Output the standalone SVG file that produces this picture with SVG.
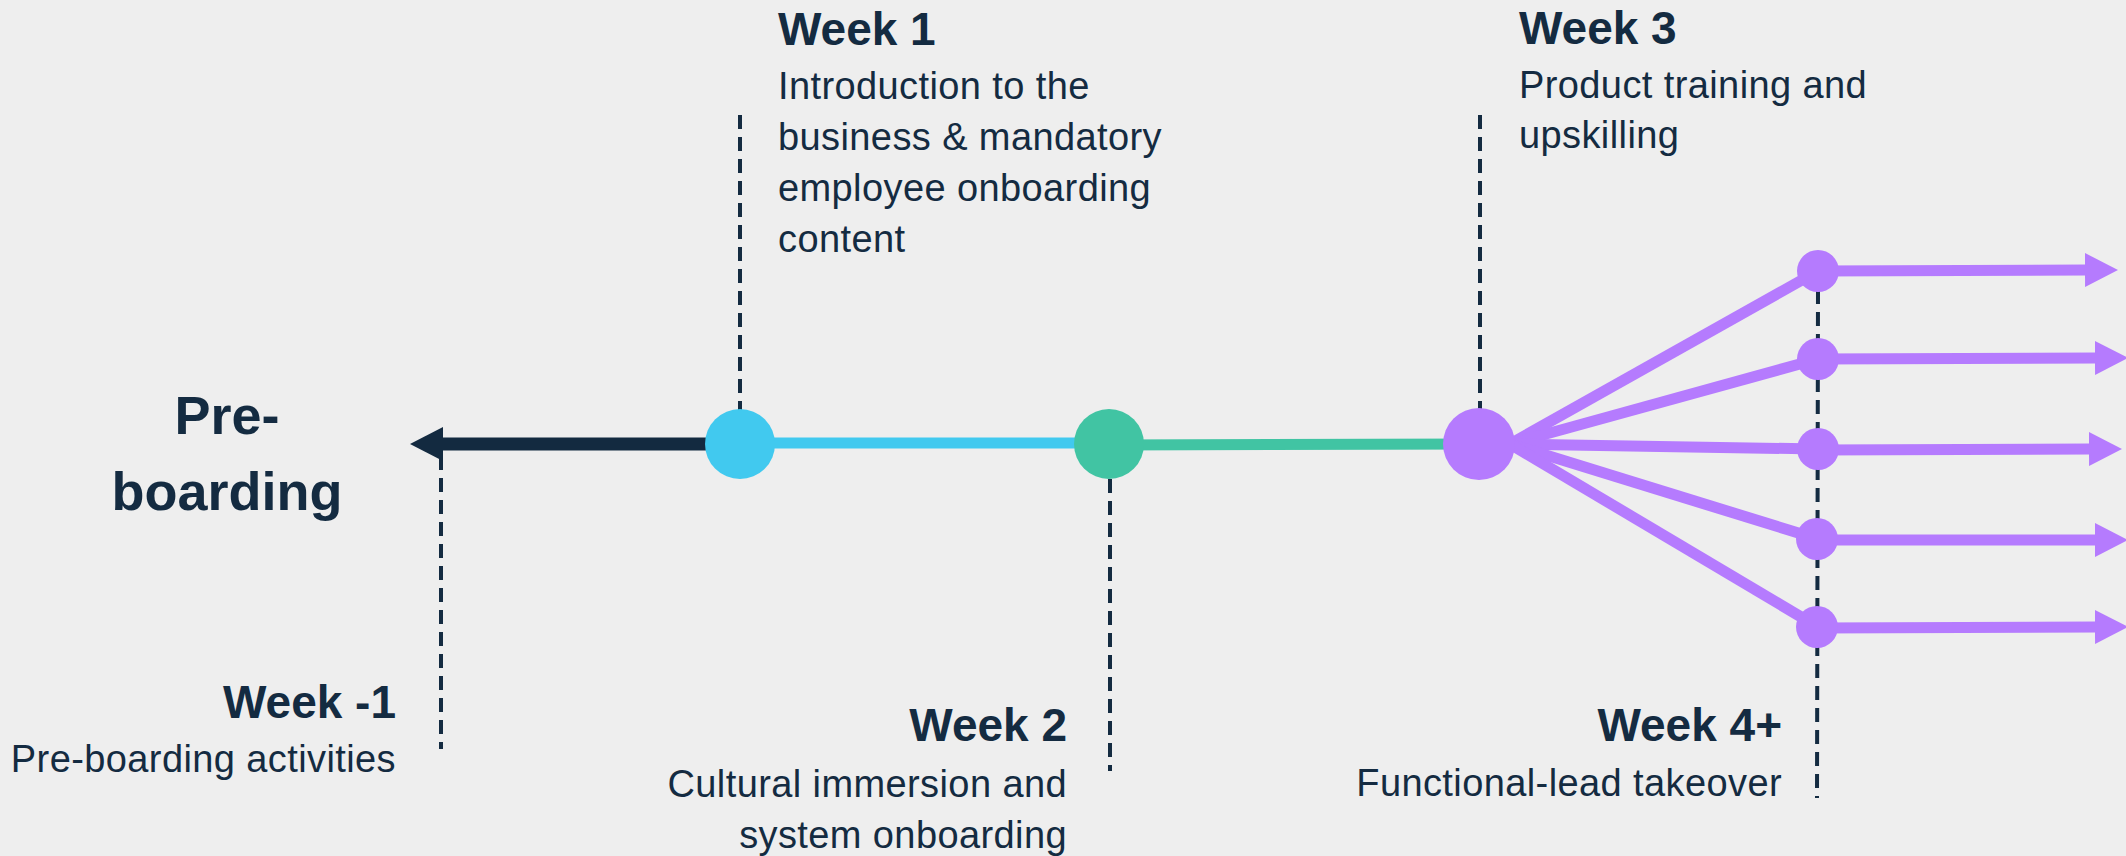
<svg xmlns="http://www.w3.org/2000/svg" width="2126" height="856" viewBox="0 0 2126 856">
<style>
.t{font-family:"Liberation Sans",Arial,sans-serif;fill:#142b41}
.h{font-size:46px;font-weight:bold}
.d{font-size:38px;letter-spacing:0.4px}
.pb{font-size:54px;font-weight:bold}
.dash{stroke:#142b41;stroke-width:4;stroke-dasharray:14 8;fill:none}
.pl{stroke:#b57bfe;stroke-width:11;fill:none}
.pf{fill:#b57bfe}
</style>
<defs>
<marker id="pa" markerUnits="userSpaceOnUse" markerWidth="34" markerHeight="36" refX="1" refY="18" orient="auto" viewBox="0 0 34 36">
<path d="M0,1 L33,18 L0,35 Z" fill="#b57bfe"/>
</marker>
<marker id="na" markerUnits="userSpaceOnUse" markerWidth="34" markerHeight="36" refX="1" refY="18" orient="auto" viewBox="0 0 34 36">
<path d="M0,1 L33,18 L0,35 Z" fill="#132a40"/>
</marker>
</defs>
<rect width="2126" height="856" fill="#eeeeee"/>
<g id="connectors">
<line class="dash" x1="740" y1="115" x2="740" y2="410"/>
<line class="dash" x1="441" y1="456" x2="441" y2="749"/>
<line class="dash" x1="1110" y1="479" x2="1110" y2="771"/>
<line class="dash" x1="1480" y1="115" x2="1480" y2="410"/>
<line class="dash" x1="1818" y1="290" x2="1817" y2="798"/>
<line x1="710" y1="444" x2="442" y2="444" stroke="#132a40" stroke-width="13" stroke-linecap="round" marker-end="url(#na)"/>
<line x1="740" y1="443" x2="1109" y2="443" stroke="#41c9ef" stroke-width="11"/>
<line x1="1109" y1="445" x2="1479" y2="444" stroke="#41c4a3" stroke-width="11"/>
<line class="pl" x1="1510" y1="444" x2="1818" y2="271"/>
<line class="pl" x1="1510" y1="444" x2="1818" y2="359"/>
<line class="pl" x1="1510" y1="444" x2="1818" y2="449"/>
<line class="pl" x1="1510" y1="444" x2="1818" y2="539"/>
<line class="pl" x1="1510" y1="444" x2="1818" y2="627"/>
<line class="pl" x1="1818" y1="271" x2="2086" y2="270" marker-end="url(#pa)"/>
<line class="pl" x1="1818" y1="359" x2="2096" y2="358" marker-end="url(#pa)"/>
<line class="pl" x1="1818" y1="450" x2="2090" y2="449" marker-end="url(#pa)"/>
<line class="pl" x1="1818" y1="540" x2="2096" y2="540" marker-end="url(#pa)"/>
<line class="pl" x1="1818" y1="628" x2="2096" y2="627" marker-end="url(#pa)"/>
</g>
<g id="preboarding">
<text class="t pb" x="227" y="434" text-anchor="middle">Pre-</text>
<text class="t pb" x="227" y="510" text-anchor="middle">boarding</text>
</g>
<g id="week-minus1">
<text class="t h" x="396" y="718" text-anchor="end">Week -1</text>
<text class="t d" x="396" y="772" text-anchor="end">Pre-boarding activities</text>
</g>
<g id="week1">
<circle cx="740" cy="444" r="35" fill="#41c9ef"/>
<text class="t h" x="778" y="45">Week 1</text>
<text class="t d" x="778" y="99">Introduction to the</text>
<text class="t d" x="778" y="150">business &amp; mandatory</text>
<text class="t d" x="778" y="201">employee onboarding</text>
<text class="t d" x="778" y="252">content</text>
</g>
<g id="week2">
<circle cx="1109" cy="444" r="35" fill="#41c4a3"/>
<text class="t h" x="1067" y="741" text-anchor="end">Week 2</text>
<text class="t d" x="1067" y="797" text-anchor="end">Cultural immersion and</text>
<text class="t d" x="1067" y="848" text-anchor="end">system onboarding</text>
</g>
<g id="week3">
<circle class="pf" cx="1479" cy="444" r="36"/>
<text class="t h" x="1519" y="44">Week 3</text>
<text class="t d" x="1519" y="98">Product training and</text>
<text class="t d" x="1519" y="148">upskilling</text>
</g>
<g id="week4">
<circle class="pf" cx="1818" cy="271" r="21"/>
<circle class="pf" cx="1818" cy="359" r="21"/>
<circle class="pf" cx="1818" cy="449" r="21"/>
<circle class="pf" cx="1817" cy="539" r="21"/>
<circle class="pf" cx="1817" cy="627" r="21"/>
<text class="t h" x="1782" y="741" text-anchor="end">Week 4+</text>
<text class="t d" x="1782" y="796" text-anchor="end">Functional-lead takeover</text>
</g>
</svg>
